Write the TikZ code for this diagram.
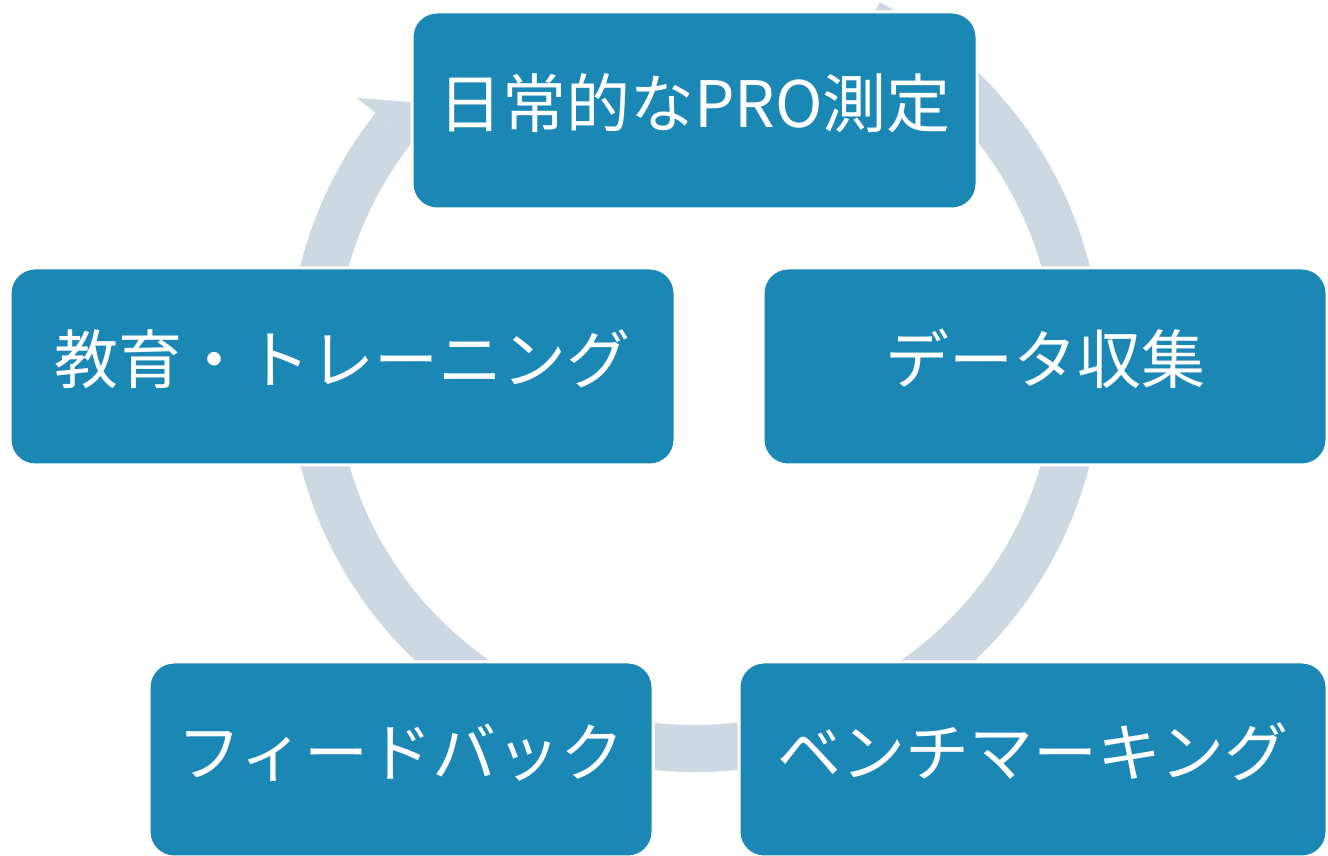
\documentclass[tikz,border=0pt]{standalone}
\usepackage{fontspec}
\newfontfamily\jpfont{Noto Sans CJK JP}
\definecolor{boxblue}{RGB}{27,135,181}
\definecolor{ringgray}{RGB}{205,216,226}
\tikzset{
  cyclebox/.style={draw=white, line width=3pt, fill=boxblue, rounded corners=25pt,
    inner sep=0pt, text=white, text height=44pt, text depth=10pt,
    font=\jpfont\fontsize{64}{70}\selectfont},
  ringfill/.style={fill=ringgray}
}
\begin{document}
\begin{tikzpicture}[x=1pt,y=1pt]
\useasboundingbox (0,0) rectangle (1328,856);
% circular arrow ring
\begin{scope}[shift={(695,491)}]
  \fill[ringfill] (63:407) arc[start angle=63, end angle=-218.3, radius=407]
    -- (-218.3:360) arc[start angle=-218.3, end angle=63, radius=360] -- cycle;
  \fill[ringfill] (141.7:431) -- (136.8:383.5) -- (141.7:336) -- cycle;
\end{scope}
% boxes
\node[cyclebox, minimum width=565pt, minimum height=197pt] (n1) at (694.5,745.5) {日常的なPRO測定};
\node[cyclebox, minimum width=564pt, minimum height=197pt] (n2) at (1045,489.5) {データ収集};
\node[cyclebox, minimum width=588pt, minimum height=195pt] (n3) at (1033,96.5) {ベンチマーキング};
\node[cyclebox, minimum width=504pt, minimum height=195pt] (n4) at (401,96.5) {フィードバック};
\node[cyclebox, minimum width=665pt, minimum height=197pt] (n5) at (342.5,489.5) {教育・トレーニング};
\end{tikzpicture}
\end{document}
